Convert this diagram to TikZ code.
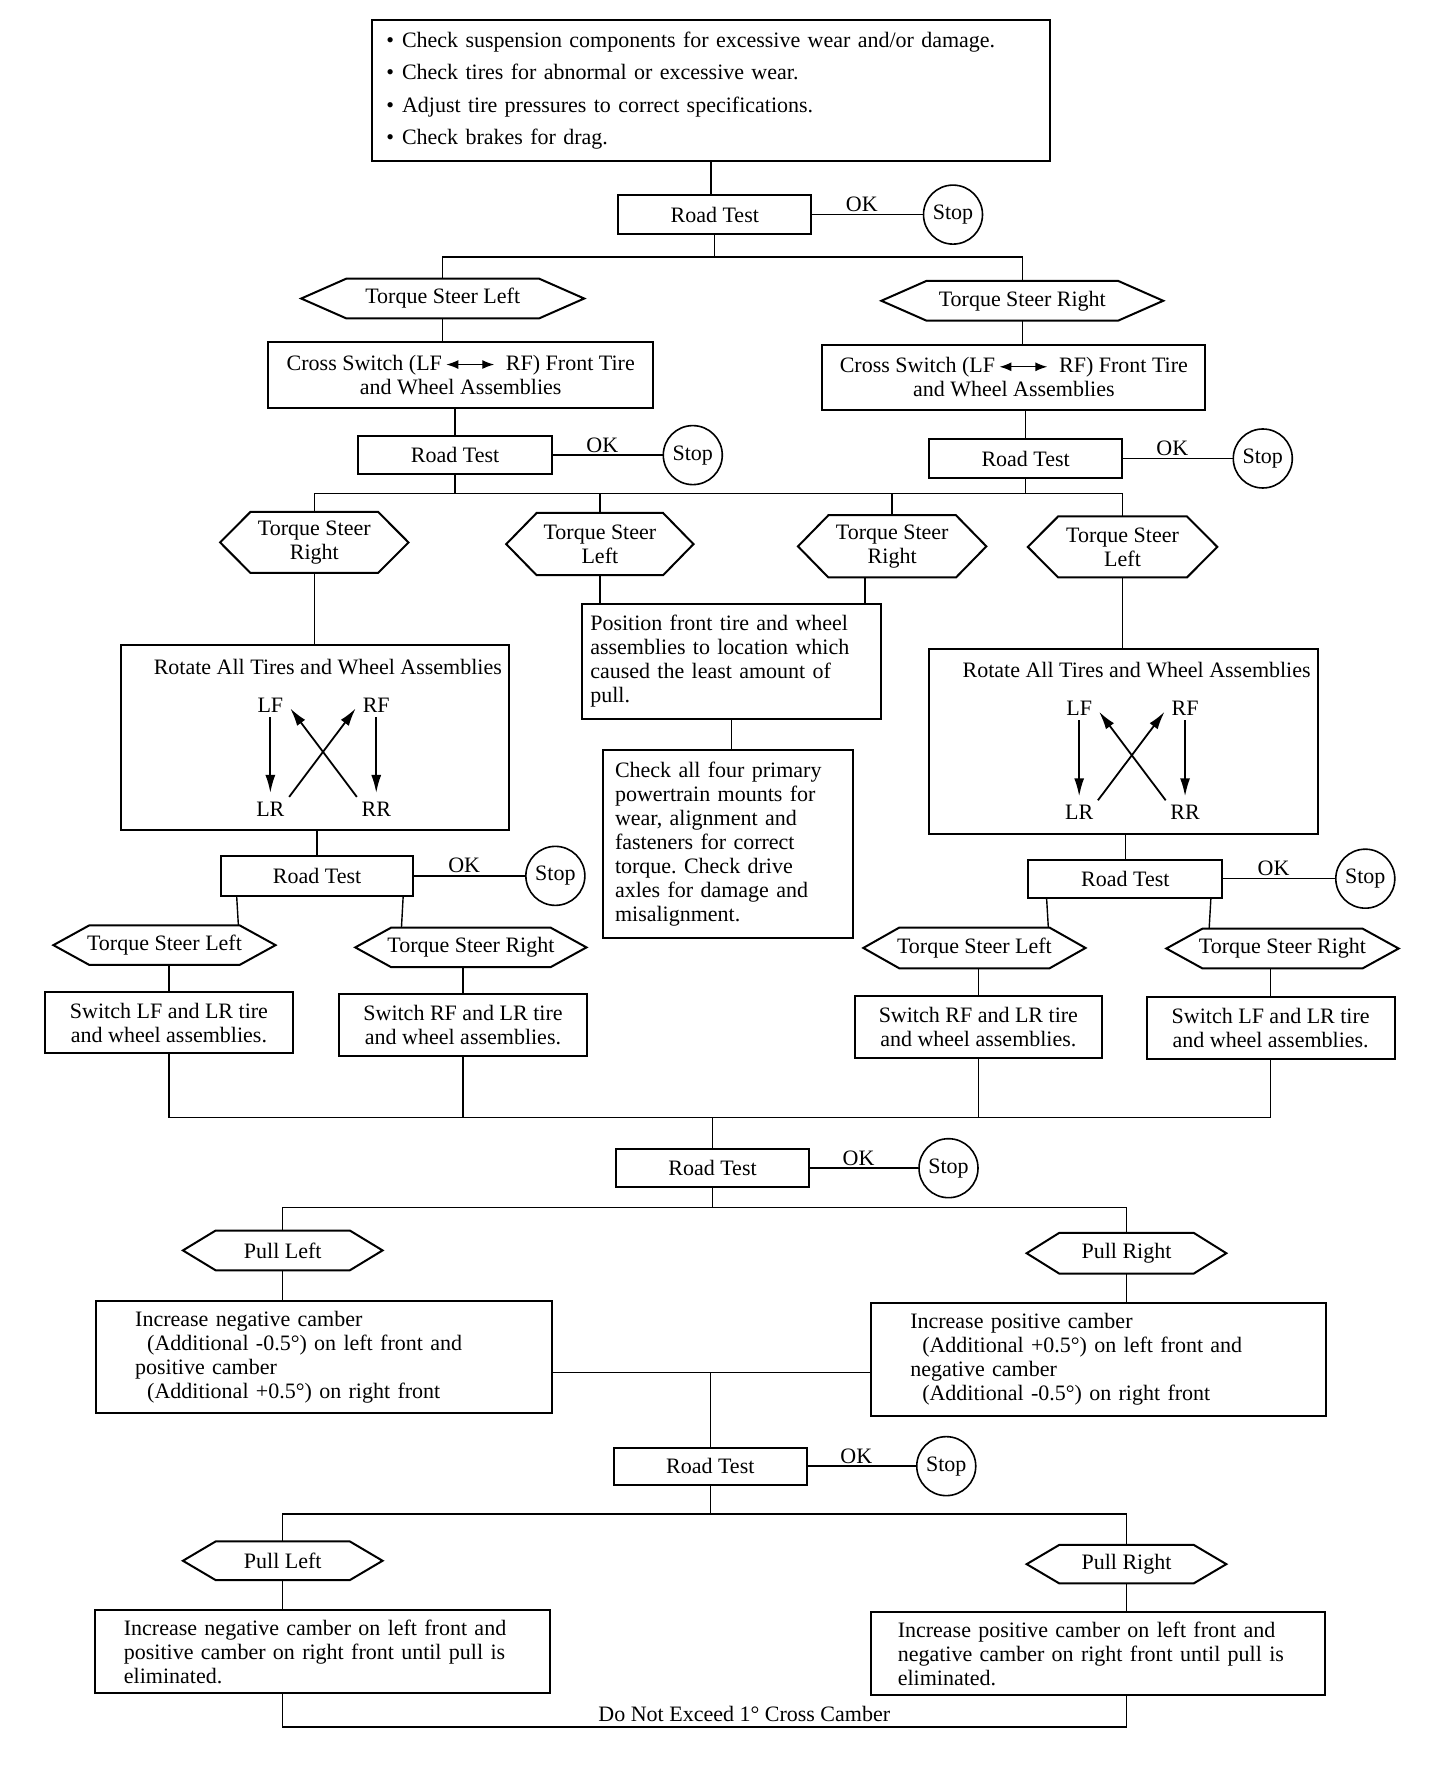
\documentclass[tikz,border=0pt]{standalone}
\usepackage{fontspec}
\setmainfont{Liberation Serif}
\usepackage{tikz}
\usetikzlibrary{positioning, calc, arrows.meta}
\frenchspacing

\newcommand{\hexrim}[2]{%
  \draw[rim] (#1.west) -- ($(#1.north west)+(#2,0)$) -- ($(#1.north east)+(-#2,0)$)
    -- (#1.east) -- ($(#1.south east)+(-#2,0)$) -- ($(#1.south west)+(#2,0)$) -- cycle;}
\newcommand{\swaparrow}{\tikz[baseline=-0.6ex]\draw[line width=0.7pt, {Latex[length=6pt,width=4.5pt]}-{Latex[length=6pt,width=4.5pt]}] (0pt,0pt) -- (24pt,0pt);}

\begin{document}
\begin{tikzpicture}[x=0.5633pt, y=-0.5633pt, font=\fontsize{11}{12}\selectfont, line width=0.7pt,
    spot/.style n args={4}{at={({(#1+#3)/2},{(#2+#4)/2})},
      minimum width={(#3-#1)*0.5633pt}, minimum height={(#4-#2)*0.5633pt}},
    box/.style={draw, line width=1pt, inner sep=0pt, align=center},
    hexa/.style={inner sep=0pt, align=center},
    rim/.style={line width=1pt},
    stopc/.style={draw, circle, line width=0.8pt, minimum size=29.5pt, inner sep=0pt},
    tag/.style={inner sep=1pt},
    wheel/.style={inner sep=2pt},
    rotarrow/.style={line width=0.9pt, -{Latex[length=9pt,width=5pt]}, shorten >=2pt}]
\useasboundingbox (0,0) rectangle (1292.5,1567.7);

% first checks
\node[box, spot={330}{18}{932}{143}, text width=324.5pt, align=left, font=\fontsize{11}{16.3}\selectfont] (checks)
  {\textbullet\hspace{4pt}Check suspension components for excessive wear and/or damage.\\
   \textbullet\hspace{4pt}Check tires for abnormal or excessive wear.\\
   \textbullet\hspace{4pt}Adjust tire pressures to correct specifications.\\
   \textbullet\hspace{4pt}Check brakes for drag.};
\node[box, spot={549}{173}{720}{208}] (rt1) {Road Test};
\node[stopc] (stop1) at (846,190.5) {Stop};
\draw (checks.south) -- (checks.south |- rt1.north);
\draw (rt1.east) -- node[tag, above, pos=0.45] (ok1) {OK} (stop1.west);

% torque steer split
\coordinate (bus1) at (0,228);
\node[hexa, spot={268}{248}{518}{282}] (tsl) {Torque Steer Left}; \hexrim{tsl}{40}
\node[hexa, spot={783}{250}{1032}{284}] (tsr) {Torque Steer Right}; \hexrim{tsr}{40}
\draw (rt1.south) -- (rt1.south |- bus1);
\draw (tsl.north) -- (tsl.north |- bus1) -- (tsr.north |- bus1) -- (tsr.north);

\node[box, spot={238}{304}{580}{362}] (csl) {Cross Switch (LF\,\swaparrow\ \ RF) Front Tire\\and Wheel Assemblies};
\node[box, spot={730}{306}{1070}{364}] (csr) {Cross Switch (LF\,\swaparrow\ \ RF) Front Tire\\and Wheel Assemblies};
\draw (tsl.south) -- (tsl.south |- csl.north);
\draw (tsr.south) -- (tsr.south |- csr.north);

\node[box, spot={318}{387}{490}{421}] (rt2l) {Road Test};
\node[stopc] (stop2l) at (615,404) {Stop};
\draw (rt2l.north |- csl.south) -- (rt2l.north);
\draw (rt2l.east) -- node[tag, above, pos=0.45] (ok2l) {OK} (stop2l.west);
\node[box, spot={825}{390}{996}{424}] (rt2r) {Road Test};
\node[stopc] (stop2r) at (1121,407) {Stop};
\draw (rt2r.north |- csr.south) -- (rt2r.north);
\draw (rt2r.east) -- node[tag, above, pos=0.45] (ok2r) {OK} (stop2r.west);

% second split
\coordinate (bus2) at (0,438);
\node[hexa, spot={196}{455}{362}{508}] (h1) {Torque Steer\\Right}; \hexrim{h1}{27}
\node[hexa, spot={450}{456}{615}{510}] (h2) {Torque Steer\\Left}; \hexrim{h2}{27}
\node[hexa, spot={709}{458}{875}{512}] (h3) {Torque Steer\\Right}; \hexrim{h3}{27}
\node[hexa, spot={913}{459}{1080}{512}] (h4) {Torque Steer\\Left}; \hexrim{h4}{27}
\draw (rt2l.south) -- (rt2l.south |- bus2);
\draw (rt2r.south) -- (rt2r.south |- bus2);
\draw (h1.north) -- (h1.north |- bus2) -- (h4.north |- bus2) -- (h4.north);
\draw (h2.north) -- (h2.north |- bus2);
\draw (h3.north) -- (h3.north |- bus2);

% rotate, left
\node[box, spot={107}{573}{452}{737}] (rotl) {};
\node (rotlt) at (291,592) {Rotate All Tires and Wheel Assemblies};
\node[wheel] (lfl) at (240,626) {LF};
\node[wheel] (rfl) at (334,626) {RF};
\node[wheel] (lrl) at (240,718) {LR};
\node[wheel] (rrl) at (334,718) {RR};
\draw[rotarrow] (lfl.south) -- (lrl.north);
\draw[rotarrow] (rfl.south) -- (rrl.north);
\draw[rotarrow] (lrl.north east) -- (rfl.west);
\draw[rotarrow] (rrl.north west) -- (lfl.east);
\draw (h1.south) -- (h1.south |- rotl.north);

% middle
\node[box, spot={517}{536}{782}{638}, text width=141.4pt, align=left] (pos)
  {Position front tire and wheel\\assemblies to location which\\caused the least amount of\\pull.};
\coordinate (h3d) at ($(h3.south)+(-24,0)$);
\draw (h2.south) -- (h2.south |- pos.north);
\draw (h3d) -- (h3d |- pos.north);
\node[box, spot={535}{666}{757}{833}, text width=112.7pt, align=left] (chk)
  {Check all four primary\\powertrain mounts for\\wear, alignment and\\fasteners for correct\\torque. Check drive\\axles for damage and\\misalignment.};
\draw (pos.south) -- (pos.south |- chk.north);

% rotate, right
\node[box, spot={825}{576}{1170}{740}] (rotr) {};
\node (rotrt) at (1009,595) {Rotate All Tires and Wheel Assemblies};
\node[wheel] (lfr) at (958,629) {LF};
\node[wheel] (rfr) at (1052,629) {RF};
\node[wheel] (lrr) at (958,721) {LR};
\node[wheel] (rrr) at (1052,721) {RR};
\draw[rotarrow] (lfr.south) -- (lrr.north);
\draw[rotarrow] (rfr.south) -- (rrr.north);
\draw[rotarrow] (lrr.north east) -- (rfr.west);
\draw[rotarrow] (rrr.north west) -- (lfr.east);
\draw (h4.south) -- (h4.south |- rotr.north);

% third road tests
\node[box, spot={196}{760}{367}{795}] (rt3l) {Road Test};
\node[stopc] (stop3l) at (493,777.5) {Stop};
\draw (rt3l.north |- rotl.south) -- (rt3l.north);
\draw (rt3l.east) -- node[tag, above, pos=0.45] (ok3l) {OK} (stop3l.west);
\node[box, spot={913}{763}{1085}{797}] (rt3r) {Road Test};
\node[stopc] (stop3r) at (1212,780) {Stop};
\draw (rt3r.north |- rotr.south) -- (rt3r.north);
\draw (rt3r.east) -- node[tag, above, pos=0.45] (ok3r) {OK} (stop3r.west);

\node[hexa, spot={48}{822}{244}{856}] (tsl3) {Torque Steer Left}; \hexrim{tsl3}{32}
\node[hexa, spot={316}{824}{520}{858}] (tsr3) {Torque Steer Right}; \hexrim{tsr3}{32}
\node[hexa, spot={767}{824}{963}{859}] (tsl4) {Torque Steer Left}; \hexrim{tsl4}{32}
\node[hexa, spot={1036}{825}{1241}{859}] (tsr4) {Torque Steer Right}; \hexrim{tsr4}{32}
\draw ($(rt3l.south west)+(15,0)$) -- ($(tsl3.north east)+(-33,0)$);
\draw ($(rt3l.south east)+(-10,0)$) -- ($(tsr3.north west)+(41,0)$);
\draw ($(rt3r.south west)+(17,0)$) -- ($(tsl4.north east)+(-33,0)$);
\draw ($(rt3r.south east)+(-11,0)$) -- ($(tsr4.north west)+(38,0)$);

\node[box, spot={40}{881}{260}{935}] (s1) {Switch LF and LR tire\\and wheel assemblies.};
\node[box, spot={301}{882}{521}{937}] (s2) {Switch RF and LR tire\\and wheel assemblies.};
\node[box, spot={759}{884}{978}{939}] (s3) {Switch RF and LR tire\\and wheel assemblies.};
\node[box, spot={1018}{885}{1238}{940}] (s4) {Switch LF and LR tire\\and wheel assemblies.};
\draw (s1.north |- tsl3.south) -- (s1.north);
\draw (s2.north |- tsr3.south) -- (s2.north);
\draw (s3.north |- tsl4.south) -- (s3.north);
\draw (s4.north |- tsr4.south) -- (s4.north);

% join and fourth road test
\coordinate (bus3) at (0,992);
\draw (s1.south) -- (s1.south |- bus3) -- (s4.south |- bus3) -- (s4.south);
\draw (s2.south) -- (s2.south |- bus3);
\draw (s3.south) -- (s3.south |- bus3);
\node[box, spot={547}{1020}{718}{1054}] (rt4) {Road Test};
\node[stopc] (stop4) at (842,1037) {Stop};
\draw (rt4.north |- bus3) -- (rt4.north);
\draw (rt4.east) -- node[tag, above, pos=0.45] (ok4) {OK} (stop4.west);

% camber
\coordinate (bus4) at (0,1072);
\node[hexa, spot={163}{1093}{339}{1127}] (pl1) {Pull Left}; \hexrim{pl1}{29}
\node[hexa, spot={912}{1095}{1088}{1130}] (pr1) {Pull Right}; \hexrim{pr1}{29}
\draw (rt4.south) -- (rt4.south |- bus4);
\draw (pl1.north) -- (pl1.north |- bus4) -- (pr1.north |- bus4) -- (pr1.north);
\node[box, spot={85}{1155}{490}{1254}, text width=188.7pt, align=left] (il)
  {Increase negative camber\\
   \hspace*{6pt}(Additional -0.5°) on left front and\\
   positive camber\\
   \hspace*{6pt}(Additional +0.5°) on right front};
\node[box, spot={773}{1157}{1177}{1257}, text width=188.1pt, align=left] (ir)
  {Increase positive camber\\
   \hspace*{6pt}(Additional +0.5°) on left front and\\
   negative camber\\
   \hspace*{6pt}(Additional -0.5°) on right front};
\draw (pl1.south) -- (pl1.south |- il.north);
\draw (pr1.south) -- (pr1.south |- ir.north);
\coordinate (mid) at ($(il.east)+(0,14)$);
\draw (mid) -- (mid -| ir.west);

\node[box, spot={545}{1285}{716}{1318}] (rt5) {Road Test};
\node[stopc] (stop5) at (840,1301.5) {Stop};
\draw (rt5.north |- mid) -- (rt5.north);
\draw (rt5.east) -- node[tag, above, pos=0.45] (ok5) {OK} (stop5.west);

% last pull
\coordinate (bus5) at (0,1344);
\node[hexa, spot={163}{1369}{339}{1402}] (pl2) {Pull Left}; \hexrim{pl2}{29}
\node[hexa, spot={912}{1372}{1088}{1405}] (pr2) {Pull Right}; \hexrim{pr2}{29}
\draw (rt5.south) -- (rt5.south |- bus5);
\draw (pl2.north) -- (pl2.north |- bus5) -- (pr2.north |- bus5) -- (pr2.north);
\node[box, spot={84}{1429}{488}{1503}, text width=198.3pt, align=left] (bl)
  {Increase negative camber on left front and\\positive camber on right front until pull is\\eliminated.};
\node[box, spot={773}{1431}{1176}{1505}, text width=200pt, align=left] (br)
  {Increase positive camber on left front and\\negative camber on right front until pull is\\eliminated.};
\draw (pl2.south) -- (pl2.south |- bl.north);
\draw (pr2.south) -- (pr2.south |- br.north);
\coordinate (base) at (0,1533);
\draw (pl2.south |- bl.south) -- (pl2.south |- base)
  -- node[tag, above, pos=0.547, inner sep=2.5pt] (limit) {Do Not Exceed 1° Cross Camber} (pr2.south |- base)
  -- (pr2.south |- br.south);
\end{tikzpicture}
\end{document}
